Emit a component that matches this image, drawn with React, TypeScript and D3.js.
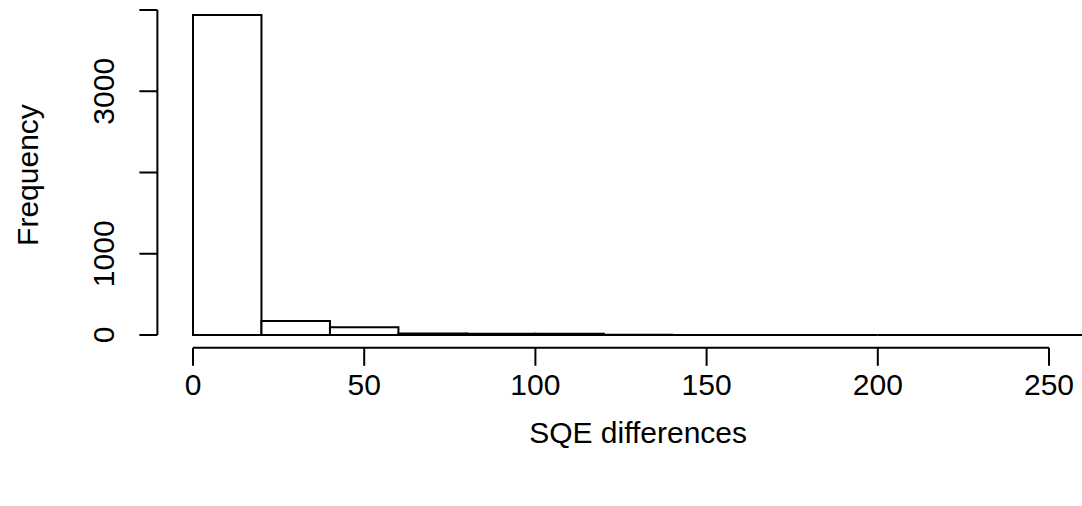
import React from "react";
import * as d3 from "d3";

// Histogram bins (lower edges, width 20) and counts
const binStarts = [0, 20, 40, 60, 80, 100, 120, 140, 160, 180, 200, 220, 240];
const binWidth = 20;
const counts = [3938, 172, 94, 18, 16, 15, 2, 1, 1, 0, 0, 1, 1];
const xTicks = [0, 50, 100, 150, 200, 250];
const yTicks = [0, 1000, 2000, 3000, 4000];
const yTickLabels = ["0", "1000", "", "3000", ""];
const xLabel = "SQE differences";
const yLabel = "Frequency";

const W = 1082;
const H = 506;
const FONT = "'Liberation Sans', Arial, sans-serif";
const FS = 30;

export default function App() {
  const x = d3.scaleLinear().domain([0, 250]).range([193, 1049]);
  const y = d3.scaleLinear().domain([0, 4000]).range([335, 10]);
  const axisY = y(-0.04 * 3938);
  const axisX = x(-0.04 * 260);
  const tick = 18;
  const midX = x(130);
  const midY = y((-0.04 * 3938 + 3938 * 1.04) / 2);

  const barPath = (b: number, c: number) => {
    const p = d3.path();
    p.moveTo(x(b), y(0));
    p.lineTo(x(b), y(c));
    p.lineTo(x(b + binWidth), y(c));
    p.lineTo(x(b + binWidth), y(0));
    p.closePath();
    return p.toString();
  };

  return (
    <svg
      width={W}
      height={H}
      style={{ position: "absolute", left: 0, top: 0, background: "#fff" }}
    >
      <rect x={0} y={0} width={W} height={H} fill="#fff" />
      {/* bars */}
      <g>
        {binStarts.map((b, i) => (
          <path
            key={i}
            d={barPath(b, counts[i])}
            fill="#fff"
            stroke="#000"
            strokeWidth={2}
          />
        ))}
      </g>
      {/* x axis */}
      <g stroke="#000" strokeWidth={2} fill="none">
        <line x1={x(xTicks[0])} x2={x(xTicks[xTicks.length - 1])} y1={axisY} y2={axisY} />
        {xTicks.map((t) => (
          <line key={t} x1={x(t)} x2={x(t)} y1={axisY} y2={axisY + tick} />
        ))}
      </g>
      <g fontFamily={FONT} fontSize={FS} fill="#000" textAnchor="middle">
        {xTicks.map((t) => (
          <text key={t} x={x(t)} y={axisY + 47}>
            {String(t)}
          </text>
        ))}
      </g>
      {/* y axis */}
      <g stroke="#000" strokeWidth={2} fill="none">
        <line x1={axisX} x2={axisX} y1={y(yTicks[0])} y2={y(yTicks[yTicks.length - 1])} />
        {yTicks.map((t) => (
          <line key={t} x1={axisX} x2={axisX - tick} y1={y(t)} y2={y(t)} />
        ))}
      </g>
      <g fontFamily={FONT} fontSize={FS} fill="#000" textAnchor="middle">
        {yTicks.map((t, i) =>
          yTickLabels[i] ? (
            <text key={t} transform={`translate(${axisX - 43},${y(t)}) rotate(-90)`}>
              {yTickLabels[i]}
            </text>
          ) : null
        )}
      </g>
      {/* axis titles */}
      <text
        x={midX}
        y={axisY + 95}
        fontFamily={FONT}
        fontSize={FS}
        textAnchor="middle"
        fill="#000"
      >
        {xLabel}
      </text>
      <text
        transform={`translate(${axisX - 119},${midY}) rotate(-90)`}
        fontFamily={FONT}
        fontSize={FS}
        textAnchor="middle"
        fill="#000"
      >
        {yLabel}
      </text>
    </svg>
  );
}
